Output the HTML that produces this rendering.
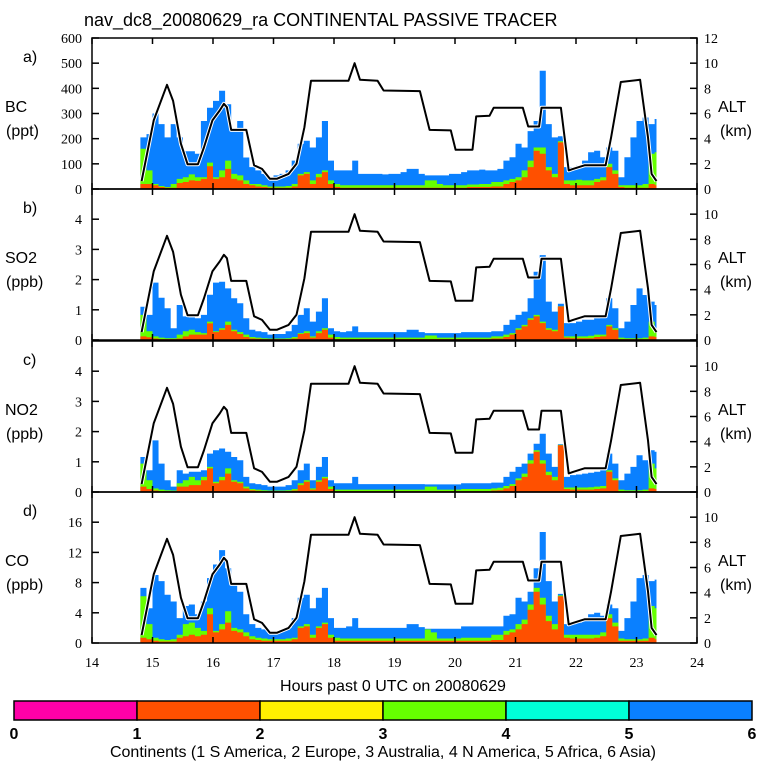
<!DOCTYPE html>
<html><head><meta charset="utf-8"><style>
body{margin:0;background:#fff;}
svg{display:block;}
.tk{font-family:"Liberation Serif",serif;font-size:14px;fill:#000;}
.lb{font-family:"Liberation Sans",sans-serif;font-size:16px;fill:#000;}
</style></head><body>
<svg id="chart" width="768" height="768" viewBox="0 0 768 768" xmlns="http://www.w3.org/2000/svg">
<text x="84" y="26" class="lb" style="font-size:18px">nav_dc8_20080629_ra CONTINENTAL PASSIVE TRACER</text>
<g id="panels"></g>
<g id="xaxis"></g>
<text x="393" y="691" text-anchor="middle" class="lb">Hours past 0 UTC on 20080629</text>
<g id="legend"></g>
<text x="383" y="757" text-anchor="middle" class="lb">Continents (1 S America, 2 Europe, 3 Australia, 4 N America, 5 Africa, 6 Asia)</text>
</svg>
<script>
// bins start every 0.1 h from 14.8 to 23.3 (86 bins); stacked cumulative tops
const binStart = 14.8, binWidth = 0.1;
const bcTopEurope=[20,20,15,8,5,5,24,28,34,32,40,90,40,47,80,40,34,20,15,10,8,5,5,5,5,10,54,60,20,47,67,20,8,5,5,5,5,5,5,5,5,5,5,5,5,5,5,5,5,5,5,5,5,5,8,8,8,8,10,10,20,28,34,47,87,152,140,74,47,185,20,15,15,15,15,28,34,87,60,8,5,5,5,5,20,15];
const bcTopNAmerica=[160,74,20,12,8,20,40,47,58,47,47,105,47,74,113,60,54,34,20,20,15,10,10,10,12,20,60,67,34,60,74,34,20,15,15,15,15,15,15,15,15,15,15,15,15,15,15,34,34,20,15,15,15,15,18,18,20,20,28,28,34,40,47,74,113,165,165,87,60,190,34,34,37,34,34,40,47,100,74,15,15,15,15,20,140,146];
const bcTopAsia=[205,218,300,258,205,258,205,150,150,140,270,323,350,390,337,230,270,125,87,74,60,47,54,60,74,113,180,192,165,205,270,113,74,74,74,113,60,60,60,60,58,60,60,67,80,80,60,54,54,54,54,60,60,67,74,74,77,74,74,80,113,126,180,165,230,270,470,258,205,210,87,87,93,113,146,152,126,165,152,47,126,205,270,284,258,278];
const so2TopEurope=[.12,.09,.05,.03,.03,.03,.05,.12,.18,.18,.18,.55,.26,.34,.5,.29,.2,.1,.05,.04,.03,.03,.03,.03,.03,.05,.2,.23,.08,.23,.34,.08,.03,.03,.03,.03,.03,.03,.03,.03,.03,.03,.03,.03,.03,.03,.03,.03,.03,.03,.03,.03,.03,.03,.03,.03,.03,.03,.05,.05,.1,.18,.34,.45,.67,.78,.56,.34,.29,1.11,.08,.06,.06,.06,.06,.1,.12,.45,.34,.03,.03,.03,.03,.03,.12,.1];
const so2TopNAmerica=[.83,.29,.12,.08,.06,.06,.18,.29,.34,.26,.23,.61,.29,.39,.61,.34,.26,.18,.1,.08,.06,.05,.05,.05,.06,.1,.23,.29,.12,.29,.39,.18,.1,.08,.08,.08,.08,.08,.08,.08,.08,.08,.08,.08,.08,.08,.08,.15,.15,.08,.08,.08,.08,.08,.08,.08,.08,.08,.12,.12,.18,.23,.39,.5,.72,.83,.61,.39,.34,1.12,.12,.12,.12,.12,.14,.18,.18,.5,.39,.08,.06,.06,.06,.08,.61,.39];
const so2TopAsia=[1.1,.83,1.9,1.4,1.05,.39,1.16,.78,.75,.72,.83,1.5,1.9,1.93,1.71,1.38,1.22,.72,.34,.29,.26,.18,.2,.2,.29,.5,.83,1.05,.61,.94,1.38,.39,.29,.26,.29,.45,.26,.26,.26,.26,.26,.26,.26,.26,.34,.34,.26,.23,.23,.23,.23,.23,.23,.26,.26,.26,.26,.26,.29,.29,.5,.67,.83,.94,1.38,2.26,2.81,1.27,.94,1.2,.56,.56,.61,.67,.67,.72,.78,1.38,1.05,.39,.61,1.16,1.71,1.49,1.27,1.16];
const no2TopEurope=[.18,.1,.05,.03,.03,.03,.18,.18,.23,.23,.39,.78,.29,.39,.61,.34,.29,.12,.06,.04,.03,.03,.03,.03,.03,.05,.23,.34,.08,.34,.45,.1,.03,.03,.03,.03,.03,.03,.03,.03,.03,.03,.03,.03,.03,.03,.03,.03,.03,.03,.03,.03,.03,.03,.03,.03,.03,.03,.05,.06,.12,.2,.39,.5,.94,1.33,.94,.56,.39,1.55,.1,.08,.08,.08,.08,.1,.12,.67,.39,.03,.03,.03,.03,.03,.12,.1];
const no2TopNAmerica=[.94,.39,.12,.08,.06,.05,.29,.39,.5,.39,.5,.83,.34,.5,.78,.39,.34,.18,.1,.08,.06,.05,.05,.05,.06,.1,.29,.39,.12,.39,.5,.18,.08,.08,.08,.08,.08,.08,.08,.08,.08,.08,.08,.08,.08,.08,.08,.18,.18,.08,.08,.08,.08,.1,.1,.1,.1,.1,.12,.14,.2,.26,.45,.61,1.05,1.38,1.05,.67,.5,1.56,.15,.15,.15,.15,.16,.18,.2,.72,.45,.08,.06,.06,.06,.08,.94,.78];
const no2TopAsia=[1.16,.72,1.71,.94,.39,.18,.72,.61,.67,.67,.72,1.27,1.38,1.44,1.33,1.16,1.05,.5,.29,.26,.23,.18,.18,.18,.23,.39,.72,.94,.39,.83,1.16,.39,.29,.29,.29,.5,.26,.26,.26,.26,.26,.26,.26,.26,.26,.26,.26,.25,.25,.25,.25,.25,.25,.29,.29,.29,.29,.29,.31,.31,.5,.67,.83,.94,1.27,1.6,1.93,1.27,.83,1.58,.5,.56,.58,.61,.64,.67,.72,1.27,.94,.39,.61,.83,1.22,1.05,1.38,1.33];
const coTopEurope=[.7,.5,.3,.2,.2,.2,.7,.9,1.1,.9,1.1,3.8,1.4,1.8,2.7,1.6,1.4,.9,.5,.4,.3,.3,.3,.3,.3,.5,2.0,2.2,.7,2.0,2.5,.7,.3,.3,.3,.3,.3,.3,.3,.3,.3,.3,.3,.3,.3,.3,.3,.3,.3,.3,.3,.3,.3,.3,.3,.3,.3,.3,.4,.4,1.1,1.4,1.8,2.5,4.4,6.8,5.1,2.9,1.8,6.2,.7,.6,.6,.6,.6,.7,.9,3.3,2.2,.3,.3,.3,.3,.3,.7,.5];
const coTopNAmerica=[6.2,2.5,.7,.5,.4,.5,1.1,2.5,2.7,2.0,1.6,4.6,1.6,2.5,4.2,2.0,1.8,1.4,.9,.7,.6,.5,.5,.5,.6,.7,2.2,2.5,1.1,2.2,2.7,1.1,.7,.6,.6,.6,.6,.6,.6,.6,.6,.6,.6,.6,.6,.6,.6,1.8,1.4,.6,.6,.6,.6,.7,.7,.7,.7,.7,1.1,1.1,1.6,1.8,2.5,3.1,5.1,7.3,6.0,3.6,2.5,6.3,1.1,1.1,1.1,1.1,1.1,1.1,1.4,3.8,2.7,.6,.5,.5,.5,.6,4.9,4.6];
const coTopAsia=[7.3,4.6,9,8.2,6.4,5.5,3.3,4.9,5.1,3.8,5.5,8.6,10.4,12.3,9.9,7.7,6.8,3.8,2.5,2.0,1.8,1.4,1.4,1.6,2.0,3.3,6.0,6.4,4.6,6.0,7.3,3.3,2.0,2.0,2.2,3.3,2.0,2.0,2.0,2.0,2.0,2.0,2.0,2.0,2.5,2.5,2.1,1.9,1.9,1.9,1.9,1.9,1.9,2.2,2.2,2.2,2.2,2.2,2.2,2.2,3.6,3.8,6.0,5.5,6.8,9.9,14.7,8.2,5.5,6.5,2.5,2.5,2.7,3.3,3.8,4.0,3.6,5.1,4.6,1.6,3.3,5.5,8.6,9.0,8.2,8.4];
const altTime=[14.82,15.02,15.24,15.34,15.47,15.58,15.75,15.85,15.99,16.11,16.18,16.23,16.30,16.55,16.68,16.81,16.94,17.06,17.25,17.38,17.51,17.62,18.24,18.34,18.43,18.72,18.82,19.42,19.58,19.93,20.01,20.29,20.35,20.57,20.64,21.12,21.21,21.39,21.43,21.75,21.88,21.95,22.14,22.49,22.58,22.74,23.06,23.19,23.25,23.33];
const altKm=[0.63,5.45,8.28,7.0,3.6,1.96,1.96,3.3,5.45,6.24,6.77,6.5,4.7,4.7,1.88,1.6,0.82,0.82,1.2,2.0,4.9,8.6,8.6,10.0,8.68,8.6,7.83,7.78,4.7,4.66,3.12,3.12,5.77,5.82,6.46,6.46,4.97,4.97,6.46,6.46,1.48,1.6,1.88,1.88,4.1,8.5,8.68,4.1,1.2,0.63];
const xTicks=[14,15,16,17,18,19,20,21,22,23,24];
const panelLetters=["a)","b)","c)","d)"];
const panelVars=["BC","SO2","NO2","CO"];
const panelUnits=["(ppt)","(ppb)","(ppb)","(ppb)"];
const panelMax=[600,5,5,20];
const leftTicksA=[0,100,200,300,400,500,600];
const leftTicksB=[0,1,2,3,4];
const leftTicksC=[0,1,2,3,4];
const leftTicksD=[0,4,8,12,16];
const altTicksA=[0,2,4,6,8,10,12];
const altTicksOther=[0,2,4,6,8,10];
const legendLabels=["0","1","2","3","4","5","6"];
const legendColors=["#ff00a8","#ff5000","#fff000","#66ff00","#00ffd8","#0a80ff"];

const NS="http://www.w3.org/2000/svg";
const X0=92,X1=697,T0=14,T1=24;
const tops=[38,189,341,492],H=151;
const x=t=>X0+(t-T0)*(X1-X0)/(T1-T0);
function mk(tag,attrs,parent){const e=document.createElementNS(NS,tag);for(const k in attrs)e.setAttribute(k,attrs[k]);parent.appendChild(e);return e;}
const panels=document.getElementById('panels');
const series=[[bcTopEurope,bcTopNAmerica,bcTopAsia],[so2TopEurope,so2TopNAmerica,so2TopAsia],[no2TopEurope,no2TopNAmerica,no2TopAsia],[coTopEurope,coTopNAmerica,coTopAsia]];
const leftTicks=[leftTicksA,leftTicksB,leftTicksC,leftTicksD];
const layerColors=["#ff5000","#66ff00","#0a80ff"];
const layerNames=["europe-area","n-america-area","asia-area"];
for(let p=0;p<4;p++){
  const top=tops[p],bot=top+H;
  const y=v=>bot-v/panelMax[p]*H;
  const ya=k=>bot-k/12*H;
  const g=mk('g',{},panels);
  
  
  for(let L=2;L>=0;L--){
    const arr=series[p][L];
    let d='M'+x(binStart)+','+bot;
    for(let i=0;i<arr.length;i++){
      const t0=binStart+i*binWidth, t1=Math.min(t0+binWidth,23.33);
      d+=' L'+x(t0).toFixed(1)+','+y(arr[i]).toFixed(1)+' L'+x(t1).toFixed(1)+','+y(arr[i]).toFixed(1);
    }
    d+=' L'+x(23.33)+','+bot+' Z';
    const a=mk('path',{d:d,fill:layerColors[L]},g);
    
    
  }
  let ad='';
  altTime.forEach((t,i)=>{ad+=(i?' L':'M')+x(t).toFixed(1)+','+ya(altKm[i]).toFixed(1);});
  mk('path',{d:ad,fill:'none',stroke:'#fff','stroke-width':4,'stroke-linejoin':'round'},g);
  const al=mk('path',{d:ad,fill:'none',stroke:'#000','stroke-width':2,'stroke-linejoin':'round'},g);
  
  
  const fr=mk('rect',{x:X0,y:top,width:X1-X0,height:H,fill:'none',stroke:'#000','stroke-width':1.5},g);
  
  
  xTicks.forEach(t=>{mk('line',{x1:x(t),x2:x(t),y1:top,y2:top+6,stroke:'#000','stroke-width':1.5},g);mk('line',{x1:x(t),x2:x(t),y1:bot,y2:bot-6,stroke:'#000','stroke-width':1.5},g);});
  leftTicks[p].forEach(v=>{
    mk('line',{x1:X0,x2:X0+7,y1:y(v),y2:y(v),stroke:'#000','stroke-width':1.5},g);
    const tx=mk('text',{x:82,y:y(v)+5,'text-anchor':'end',class:'tk'},g);
    tx.textContent=String(v);
    
    
  });
  (p===0?altTicksA:altTicksOther).forEach(k=>{
    mk('line',{x1:X1,x2:X1-7,y1:ya(k),y2:ya(k),stroke:'#000','stroke-width':1.5},g);
    const tx=mk('text',{x:704,y:ya(k)+5,class:'tk'},g);
    tx.textContent=String(k);
    
    
  });
  const l1=mk('text',{x:23,y:top+24,class:'lb'},g);l1.textContent=panelLetters[p];
  
  
  const l2=mk('text',{x:5,y:top+74,class:'lb'},g);l2.textContent=panelVars[p];
  
  
  const l3=mk('text',{x:6,y:top+98,class:'lb'},g);l3.textContent=panelUnits[p];
  
  
  const r1=mk('text',{x:718,y:top+74,class:'lb'},g);r1.textContent='ALT';
  
  
  const r2=mk('text',{x:720,y:top+98,class:'lb'},g);r2.textContent='(km)';
  
  
}
const xa=document.getElementById('xaxis');
xTicks.forEach(t=>{
  const tx=mk('text',{x:x(t),y:667,'text-anchor':'middle',class:'tk'},xa);
  tx.textContent=String(t);
  
  
});
const lg=document.getElementById('legend');
const LX0=14,LX1=752,segW=(LX1-LX0)/6;
legendColors.forEach((c,i)=>{
  const r=mk('rect',{x:LX0+i*segW,y:701,width:segW,height:19,fill:c,stroke:'#000','stroke-width':1.5},lg);
  
  
});
legendLabels.forEach((s,i)=>{
  const tx=mk('text',{x:LX0+i*segW,y:739,'text-anchor':'middle',class:'lb',style:'font-weight:bold'},lg);
  tx.textContent=s;
  
  
});
</script>
</body></html>
